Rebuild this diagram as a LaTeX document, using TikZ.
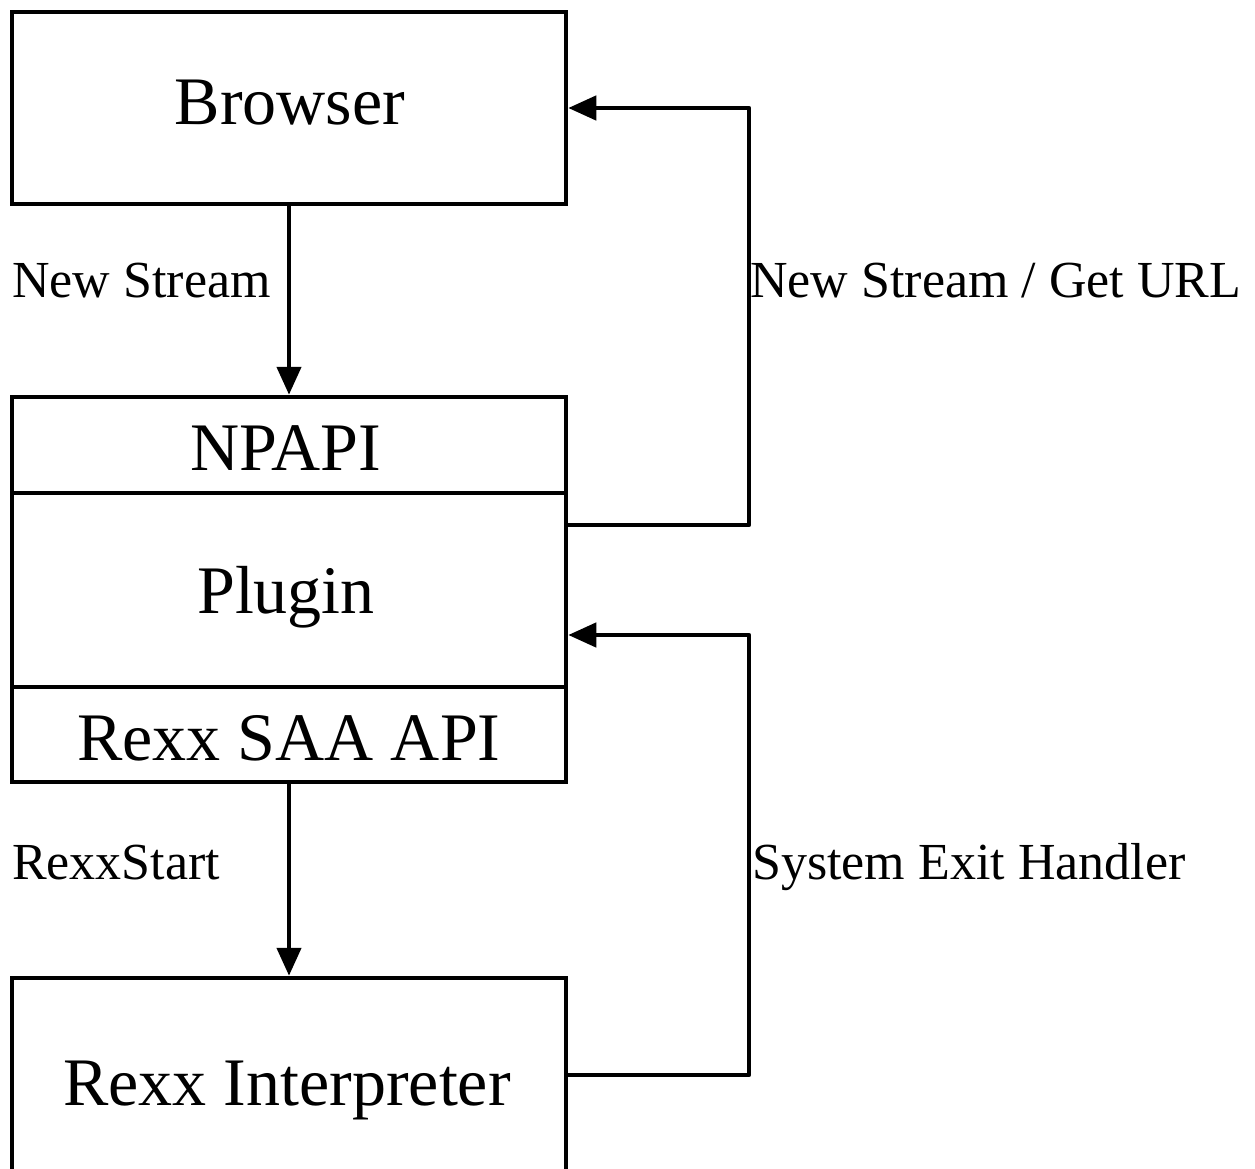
\documentclass[tikz,border=0pt]{standalone}
\usepackage{fontspec}
\setmainfont{Liberation Serif}
\usetikzlibrary{arrows.meta}
\begin{document}
\begin{tikzpicture}[x=1pt,y=1pt,
  box/.style={draw, line width=4.5pt, inner sep=0pt, minimum width=554pt},
  boxtext/.style={anchor=base, inner sep=0pt, font=\fontsize{68}{80}\selectfont},
  lbl/.style={anchor=base west, inner sep=0pt, font=\fontsize{52}{62}\selectfont},
  link/.style={line width=4.5pt, line join=round, -{Triangle[length=28pt,width=24pt]}}]
  \useasboundingbox (0,0) rectangle (1255,-1169);

  % component boxes
  \node[box, minimum height=192pt] (browser) at (289,-108)    {};
  \node[box, minimum height=96pt]  (npapi)   at (289,-445)    {};
  \node[box, minimum height=194pt] (plugin)  at (289,-590)    {};
  \node[box, minimum height=95pt]  (saa)     at (289,-734.5)  {};
  \node[box, minimum height=194pt] (interp)  at (289,-1075)   {};

  % box captions
  \node[boxtext] (browsertext) at (290,-125)  {Browser};
  \node[boxtext] (npapitext)   at (286,-470)  {NPAPI};
  \node[boxtext] (plugintext)  at (286,-613)  {Plugin};
  \node[boxtext] (saatext)     at (289,-760)  {Rexx SAA API};
  \node[boxtext] (interptext)  at (287,-1105) {Rexx Interpreter};

  % return rail and its ports
  \coordinate (rail) at (749,0);
  \coordinate (pluginout) at (plugin.east |- 0,-525);
  \coordinate (pluginin)  at (plugin.east |- 0,-635);

  % calls
  \draw[link] (browser.south) -- (npapi.north);
  \draw[link] (saa.south) -- (interp.north);
  \draw[link] (pluginout) -- (pluginout -| rail) |- (browser.east);
  \draw[link] (interp.east) -- (interp.east -| rail) |- (pluginin);

  % connector labels
  \node[lbl] (newstream)  at (12,-297)  {New Stream};
  \node[lbl] (geturl)     at (750,-297) {New Stream / Get URL};
  \node[lbl] (rexxstart)  at (12,-879)  {RexxStart};
  \node[lbl] (exithandler) at (752,-879) {System Exit Handler};
\end{tikzpicture}
\end{document}
